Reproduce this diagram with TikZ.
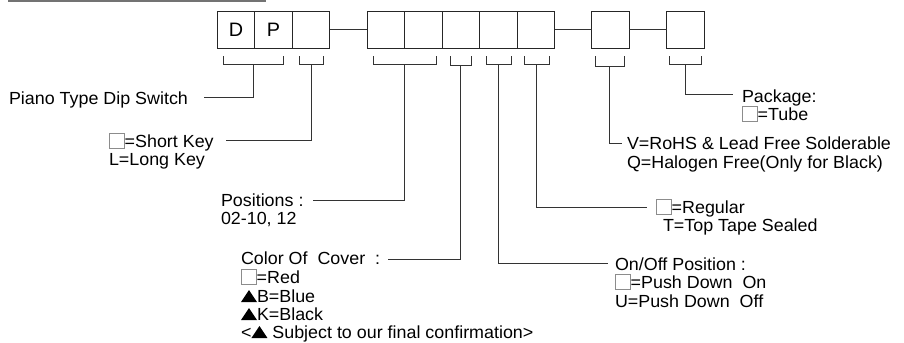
\documentclass[tikz,border=0pt]{standalone}
\usepackage{fontspec}
\setmainfont{Liberation Sans}[FakeStretch=1.02]
\newcommand\sqbox{\tikz[baseline=1bp]\draw[black!45, line width=0.7bp] (0bp,0bp) rectangle (15bp,15bp);}
\newcommand\tri{\tikz[baseline=0bp]\fill[black] (0bp,0bp) -- (16bp,0bp) -- (8bp,12bp) -- cycle;}
\begin{document}
\begin{tikzpicture}[x=1bp,y=-1bp,
  cell/.style={draw=black!85, line width=0.9bp, minimum width=37.5bp, minimum height=37bp,
    inner sep=0pt, outer sep=0pt, font=\fontsize{19.5}{22}\selectfont},
  lbl/.style={anchor=base west, inner sep=0pt, outer sep=0pt, font=\fontsize{17.6}{19}\selectfont},
  lead/.style={draw=black!80, line width=0.9bp},
  brk/.style={draw=black!80, line width=0.9bp}]
\useasboundingbox (0,0) rectangle (904,342);
\fill[black!55] (8,0) rectangle (266,2);

% code boxes
\node[cell] (b1) at (236,29.5) {D};
\node[cell] (b2) at (273.5,29.5) {P};
\node[cell] (b3) at (311,29.5) {};
\node[cell] (b4) at (386,29.5) {};
\node[cell] (b5) at (423.5,29.5) {};
\node[cell] (b6) at (461,29.5) {};
\node[cell] (b7) at (498.5,29.5) {};
\node[cell] (b8) at (536,29.5) {};
\node[cell] (b9) at (610.5,29.5) {};
\node[cell] (b10) at (685.5,29.5) {};
\draw[lead] (b3.east) -- (b4.west);
\draw[lead] (b8.east) -- (b9.west);
\draw[lead] (b9.east) -- (b10.west);

% brackets
\foreach \xa/\xb/\yb/\n in {223/283/64/1, 299/323/64/2, 373/436/64/3, 450/471/65/4,
    486/511/64/5, 524/549/64/6, 595/624/66/7, 669/701/64/8}{
  \draw[brk] (\xa,56) |- (\xb,\yb) -- (\xb,56);
  \coordinate (br\n) at ({(\xa+\xb)/2},\yb);
}

% labels
\node[lbl] (p1) at (9,104) {Piano Type Dip Switch};
\node[lbl] (sk1) at (109,147) {\sqbox=Short Key};
\node[lbl] (sk2) at (109,165) {L=Long Key};
\node[lbl] (po1) at (221,206) {Positions :};
\node[lbl] (po2) at (221,224) {02-10, 12};
\node[lbl] (cc1) at (241,264) {Color Of\ \ Cover\ \ :};
\node[lbl] (cc2) at (241,283) {\sqbox=Red};
\node[lbl] (cc3) at (241,302) {\tri B=Blue};
\node[lbl] (cc4) at (241,320) {\tri K=Black};
\node[lbl] (cc5) at (241,338) {<\tri\ Subject to our final confirmation>};
\node[lbl] (on1) at (615,270) {On/Off Position :};
\node[lbl] (on2) at (615,288) {\sqbox=Push Down\ \ On};
\node[lbl] (on3) at (615,307) {U=Push Down\ \ Off};
\node[lbl] (rg1) at (656,213) {\sqbox=Regular};
\node[lbl] (rg2) at (663,231) {T=Top Tape Sealed};
\node[lbl] (v1) at (627,149) {V=RoHS \& Lead Free Solderable};
\node[lbl] (v2) at (627,168) {Q=Halogen Free(Only for Black)};
\node[lbl] (pk1) at (742,102) {Package:};
\node[lbl] (pk2) at (742,120) {\sqbox=Tube};

% leader line ends
\coordinate (e1) at (204,97);
\coordinate (e2) at (226,140);
\coordinate (e3) at (313,200);
\coordinate (e4) at (388,259);
\coordinate (e5) at (608,263);
\coordinate (e6) at (647,207);
\coordinate (e7) at (622,143);
\coordinate (e8) at (733,94);

\draw[lead] (br1) |- (e1);
\draw[lead] (br2) |- (e2);
\draw[lead] (br3) |- (e3);
\draw[lead] (br4) |- (e4);
\draw[lead] (br5) |- (e5);
\draw[lead] (br6) |- (e6);
\draw[lead] (br7) |- (e7);
\draw[lead] (br8) |- (e8);
\end{tikzpicture}
\end{document}
